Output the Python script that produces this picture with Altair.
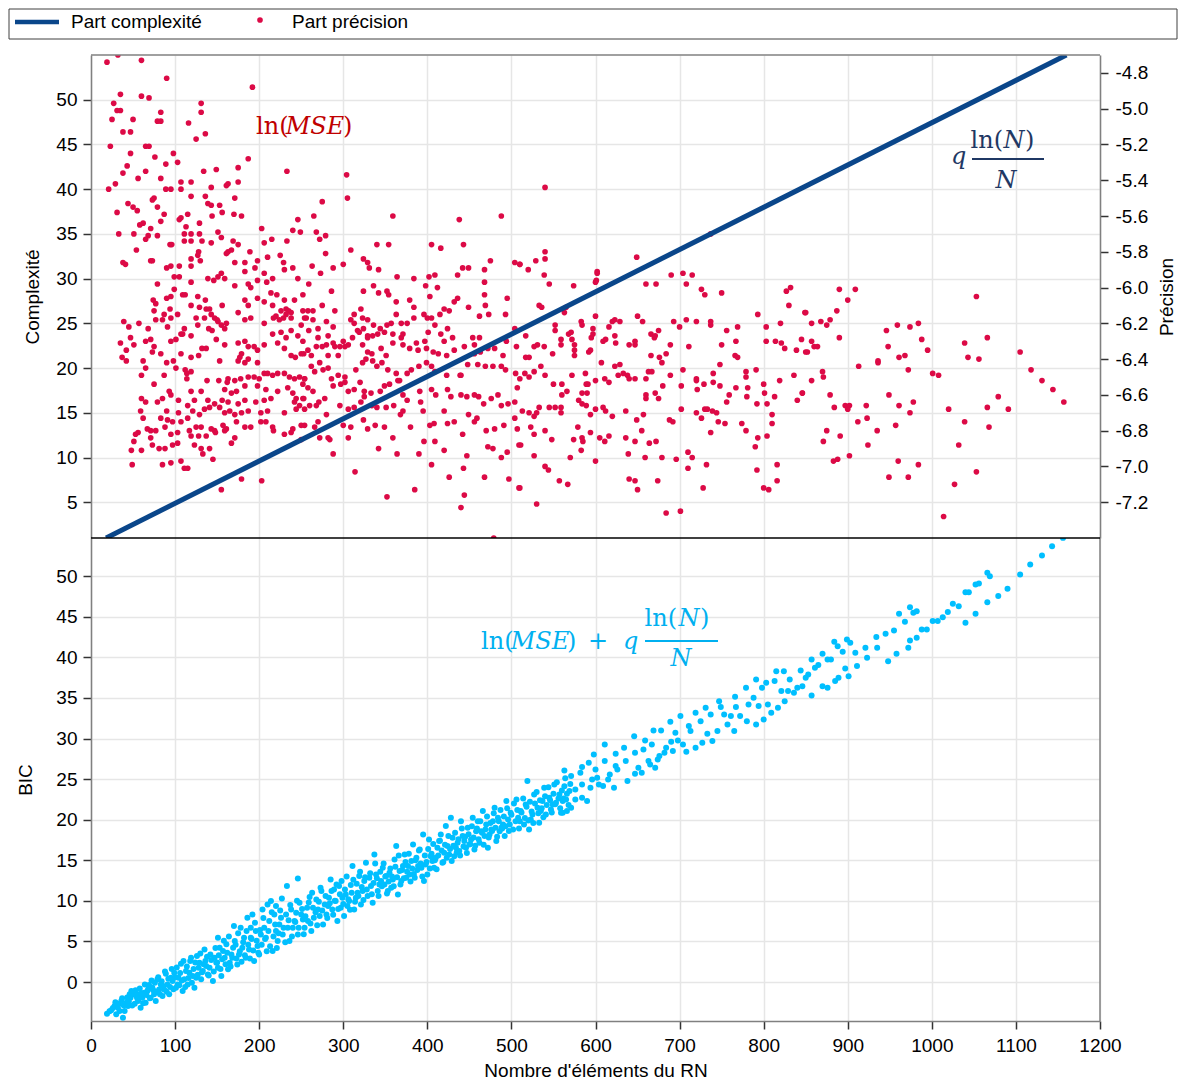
import altair as alt
import pandas as pd

# ---------------- data ----------------
X_TICKS = list(range(0, 1201, 100))
C_TICKS = [5, 10, 15, 20, 25, 30, 35, 40, 45, 50]
P_TICKS = [-7.2, -7.0, -6.8, -6.6, -6.4, -6.2, -6.0, -5.8, -5.6, -5.4, -5.2, -5.0, -4.8]
B_TICKS = [0, 5, 10, 15, 20, 25, 30, 35, 40, 45, 50]

# complexity line (q ln(N)/N), left axis
LINE_N = [18, 1160]
LINE_C = [1.0, 55.0]

# precision points ln(MSE): (N, value), right axis
PREC = [
    (19,-4.74),(32,-4.70),(60,-4.73),(90,-4.83),(192,-4.88),(35,-4.92),(60,-4.93),(69,-4.94),(27,-4.97),(131,-4.97),
    (31,-5.01),(35,-5.01),(83,-5.02),(131,-5.02),(25,-5.06),(50,-5.06),(79,-5.07),(83,-5.07),(116,-5.08),(38,-5.13),
    (47,-5.13),(136,-5.14),(125,-5.17),(23,-5.21),(65,-5.21),(69,-5.21),(98,-5.25),(47,-5.25),(76,-5.27),(187,-5.28),
    (103,-5.30),(89,-5.31),(43,-5.32),(65,-5.35),(134,-5.35),(149,-5.34),(175,-5.33),(233,-5.35),(38,-5.36),(83,-5.39),
    (56,-5.39),(107,-5.41),(119,-5.41),(163,-5.42),(175,-5.41),(29,-5.42),(21,-5.45),(89,-5.45),(95,-5.45),(107,-5.45),
    (143,-5.44),(161,-5.43),(75,-5.50),(73,-5.51),(119,-5.49),(136,-5.49),(171,-5.50),(44,-5.53),(50,-5.55),(139,-5.53),
    (143,-5.54),(153,-5.54),(79,-5.55),(55,-5.57),(31,-5.58),(156,-5.58),(170,-5.59),(87,-5.59),(179,-5.60),(115,-5.59),
    (107,-5.61),(105,-5.62),(144,-5.60),(83,-5.63),(62,-5.64),(58,-5.65),(129,-5.64),(71,-5.67),(113,-5.66),(246,-5.62),
    (203,-5.67),(240,-5.68),(249,-5.69),(33,-5.70),(51,-5.70),(79,-5.71),(68,-5.71),(65,-5.73),(111,-5.70),(119,-5.70),
    (129,-5.70),(143,-5.75),(151,-5.69),(155,-5.72),(111,-5.74),(119,-5.74),(94,-5.76),(96,-5.76),(132,-5.74),(169,-5.74),
    (175,-5.76),(215,-5.73),(206,-5.75),(233,-5.74),(54,-5.79),(163,-5.80),(167,-5.79),(161,-5.81),(128,-5.80),(189,-5.80),
    (210,-5.83),(71,-5.85),(73,-5.85),(119,-5.84),(127,-5.82),(130,-5.85),(171,-5.86),(183,-5.86),(198,-5.85),(225,-5.82),
    (38,-5.86),(41,-5.87),(95,-5.88),(105,-5.88),(90,-5.89),(119,-5.88),(195,-5.89),(183,-5.91),(206,-5.92),(229,-5.86),
    (230,-5.90),(240,-5.89),(139,-5.95),(146,-5.96),(151,-5.94),(155,-5.92),(159,-5.95),(99,-5.94),(105,-5.94),(119,-5.97),
    (171,-5.99),(187,-5.98),(198,-5.96),(190,-6.00),(209,-5.97),(216,-5.95),(246,-5.95),(79,-5.98),(99,-6.01),(109,-6.04),
    (112,-6.04),(95,-6.05),(90,-6.06),(74,-6.07),(127,-6.05),(136,-6.07),(77,-6.09),(75,-6.13),(94,-6.12),(119,-6.10),
    (129,-6.11),(137,-6.12),(141,-6.12),(147,-6.17),(143,-6.15),(150,-6.18),(156,-6.10),(175,-6.14),(183,-6.07),(187,-6.10),
    (198,-6.06),(206,-6.08),(214,-6.03),(221,-6.04),(230,-6.07),(242,-6.07),(252,-6.04),(216,-6.10),(226,-6.13),(232,-6.12),
    (235,-6.13),(238,-6.14),(252,-6.13),(87,-6.15),(95,-6.17),(77,-6.18),(85,-6.18),(103,-6.15),(91,-6.22),(111,-6.23),
    (107,-6.26),(109,-6.26),(125,-6.17),(127,-6.21),(135,-6.17),(140,-6.23),(144,-6.24),(151,-6.19),(155,-6.21),(161,-6.20),
    (159,-6.23),(183,-6.18),(190,-6.17),(206,-6.20),(217,-6.17),(220,-6.16),(224,-6.18),(229,-6.17),(232,-6.15),(238,-6.17),
    (250,-6.21),(254,-6.17),(39,-6.19),(45,-6.22),(57,-6.20),(68,-6.23),(47,-6.28),(51,-6.32),(35,-6.31),(65,-6.30),
    (71,-6.29),(75,-6.33),(73,-6.36),(42,-6.35),(37,-6.39),(42,-6.41),(62,-6.41),(83,-6.37),(95,-6.30),(101,-6.29),
    (119,-6.27),(149,-6.29),(159,-6.32),(175,-6.31),(183,-6.30),(187,-6.33),(194,-6.33),(198,-6.35),(206,-6.32),(216,-6.26),
    (226,-6.25),(232,-6.28),(238,-6.24),(246,-6.27),(222,-6.31),(230,-6.34),(238,-6.38),(243,-6.39),(250,-6.37),(179,-6.37),
    (177,-6.39),(187,-6.40),(198,-6.42),(107,-6.37),(119,-6.39),(128,-6.38),(132,-6.34),(137,-6.34),(153,-6.41),(175,-6.41),
    (183,-6.42),(90,-6.42),(98,-6.41),(101,-6.45),(112,-6.46),(114,-6.48),(119,-6.47),(114,-6.51),(65,-6.45),(87,-6.49),
    (60,-6.49),(75,-6.54),(60,-6.62),(65,-6.64),(59,-6.69),(62,-6.73),(79,-6.64),(85,-6.62),(90,-6.69),(93,-6.58),
    (95,-6.60),(104,-6.63),(104,-6.70),(119,-6.58),(131,-6.58),(138,-6.52),(152,-6.52),(163,-6.51),(171,-6.52),(178,-6.51),
    (187,-6.50),(194,-6.50),(200,-6.51),(206,-6.48),(210,-6.48),(216,-6.49),(222,-6.48),(230,-6.48),(236,-6.50),(242,-6.51),
    (248,-6.50),(254,-6.51),(162,-6.53),(159,-6.57),(167,-6.59),(173,-6.58),(183,-6.55),(198,-6.55),(208,-6.57),(214,-6.62),
    (222,-6.58),(234,-6.56),(240,-6.59),(244,-6.62),(252,-6.62),(123,-6.63),(139,-6.63),(147,-6.65),(156,-6.63),(163,-6.64),
    (175,-6.65),(183,-6.63),(196,-6.64),(206,-6.63),(242,-6.64),(248,-6.66),(115,-6.66),(121,-6.69),(129,-6.71),(135,-6.68),
    (141,-6.67),(153,-6.67),(159,-6.70),(165,-6.69),(171,-6.71),(179,-6.70),(187,-6.69),(202,-6.70),(210,-6.69),(230,-6.70),
    (244,-6.68),(254,-6.68),(83,-6.73),(91,-6.74),(97,-6.75),(107,-6.75),(115,-6.73),(117,-6.80),(125,-6.78),(131,-6.78),
    (143,-6.79),(147,-6.80),(157,-6.77),(161,-6.79),(173,-6.75),(183,-6.78),(190,-6.78),(202,-6.75),(208,-6.75),(216,-6.78),
    (217,-6.80),(230,-6.82),(238,-6.81),(240,-6.79),(250,-6.77),(67,-6.79),(71,-6.80),(77,-6.80),(88,-6.78),(95,-6.82),
    (103,-6.81),(119,-6.83),(128,-6.83),(137,-6.83),(148,-6.81),(159,-6.80),(167,-6.87),(171,-6.84),(56,-6.81),(53,-6.82),
    (51,-6.86),(71,-6.84),(73,-6.88),(81,-6.90),(88,-6.90),(97,-6.88),(103,-6.87),(123,-6.88),(131,-6.90),(133,-6.93),
    (141,-6.90),(145,-6.96),(48,-6.91),(60,-6.91),(107,-6.97),(111,-7.01),(115,-7.01),(95,-6.98),(85,-6.99),(49,-6.99),
    (155,-7.13),(179,-7.07),(203,-7.08),(250,-6.85),
    (304,-5.37),(305,-5.50),(275,-5.52),(265,-5.60),(359,-5.60),(438,-5.62),(488,-5.60),(268,-5.69),(272,-5.73),(279,-5.71),
    (279,-5.81),(309,-5.79),(340,-5.76),(354,-5.76),(405,-5.76),(416,-5.78),(443,-5.76),(263,-5.88),(273,-5.92),(288,-5.89),
    (300,-5.87),(324,-5.84),(329,-5.86),(331,-5.89),(342,-5.90),(364,-5.94),(384,-5.95),(402,-5.94),(409,-5.93),(436,-5.93),
    (442,-5.89),(449,-5.89),(475,-5.85),(468,-5.90),(504,-5.86),(510,-5.87),(259,-5.98),(286,-6.02),(324,-6.02),(336,-5.99),
    (342,-6.03),(352,-6.02),(354,-6.04),(363,-6.08),(379,-6.07),(398,-5.99),(412,-6.00),(403,-6.05),(468,-5.97),(468,-6.04),
    (469,-6.10),(495,-6.06),(258,-6.13),(264,-6.13),(275,-6.10),(290,-6.13),(256,-6.17),(264,-6.18),(270,-6.23),(280,-6.19),
    (288,-6.22),(282,-6.27),(309,-6.18),(313,-6.15),(321,-6.12),(329,-6.18),(323,-6.17),(313,-6.20),(317,-6.24),(324,-6.23),
    (329,-6.27),(336,-6.21),(344,-6.23),(352,-6.21),(357,-6.20),(363,-6.15),(369,-6.20),(376,-6.20),(384,-6.11),(384,-6.17),
    (396,-6.15),(400,-6.17),(405,-6.17),(409,-6.21),(415,-6.15),(420,-6.12),(426,-6.13),(432,-6.08),(436,-6.06),(449,-6.11),
    (462,-6.16),(473,-6.15),(493,-6.15),(259,-6.24),(270,-6.28),(275,-6.33),(280,-6.32),(288,-6.31),(300,-6.30),(306,-6.32),
    (311,-6.28),(319,-6.25),(329,-6.28),(335,-6.27),(341,-6.26),(349,-6.25),(359,-6.26),(369,-6.28),(371,-6.26),(387,-6.31),
    (397,-6.30),(401,-6.25),(416,-6.26),(420,-6.30),(430,-6.28),(424,-6.23),(454,-6.28),(462,-6.28),(252,-6.30),(258,-6.35),
    (268,-6.33),(282,-6.38),(290,-6.33),(296,-6.33),(294,-6.38),(302,-6.33),(323,-6.32),(329,-6.36),(334,-6.37),(345,-6.34),
    (351,-6.38),(359,-6.31),(371,-6.32),(379,-6.34),(389,-6.35),(399,-6.34),(407,-6.36),(413,-6.37),(423,-6.38),(432,-6.35),
    (444,-6.33),(456,-6.32),(463,-6.36),(472,-6.34),(480,-6.34),(490,-6.38),(494,-6.30),(504,-6.23),(506,-6.33),(253,-6.37),
    (262,-6.38),(272,-6.42),(262,-6.44),(254,-6.51),(266,-6.47),(276,-6.46),(282,-6.45),(286,-6.51),(294,-6.49),(302,-6.50),
    (315,-6.46),(323,-6.42),(327,-6.40),(335,-6.41),(340,-6.44),(346,-6.42),(353,-6.46),(363,-6.48),(367,-6.52),(376,-6.48),
    (381,-6.46),(390,-6.44),(399,-6.42),(405,-6.44),(409,-6.47),(423,-6.49),(439,-6.49),(448,-6.43),(456,-6.37),(460,-6.43),
    (469,-6.44),(478,-6.44),(488,-6.44),(493,-6.46),(505,-6.48),(252,-6.54),(258,-6.56),(264,-6.58),(271,-6.64),(278,-6.62),
    (288,-6.55),(297,-6.54),(302,-6.53),(306,-6.58),(313,-6.57),(320,-6.53),(325,-6.58),(333,-6.59),(344,-6.58),(349,-6.55),
    (355,-6.54),(365,-6.52),(371,-6.60),(376,-6.63),(391,-6.58),(405,-6.57),(410,-6.60),(424,-6.57),(428,-6.61),(440,-6.49),
    (440,-6.60),(447,-6.61),(456,-6.60),(461,-6.61),(467,-6.65),(476,-6.62),(484,-6.60),(488,-6.66),(496,-6.65),(504,-6.64),
    (253,-6.62),(260,-6.66),(268,-6.66),(280,-6.71),(270,-6.75),(266,-6.78),(272,-6.84),(284,-6.85),(288,-6.93),(296,-6.66),
    (306,-6.68),(313,-6.67),(321,-6.64),(325,-6.61),(334,-6.66),(340,-6.67),(351,-6.67),(360,-6.66),(368,-6.71),(371,-6.69),
    (380,-6.78),(392,-6.64),(395,-6.69),(403,-6.77),(408,-6.76),(420,-6.69),(424,-6.76),(432,-6.75),(442,-6.82),(449,-6.71),
    (456,-6.75),(459,-6.73),(470,-6.80),(480,-6.79),(491,-6.77),(504,-6.73),(254,-6.77),(282,-6.84),(300,-6.77),(309,-6.78),
    (306,-6.84),(324,-6.74),(329,-6.79),(338,-6.77),(349,-6.78),(359,-6.84),(342,-6.90),(364,-6.93),(390,-6.93),(396,-6.86),
    (409,-6.86),(420,-6.91),(447,-6.94),(472,-6.89),(478,-6.90),(488,-6.95),(495,-6.92),(509,-6.88),(314,-7.03),(352,-7.17),
    (385,-7.13),(405,-6.99),(426,-7.06),(443,-7.01),(444,-7.16),(440,-7.23),(468,-7.06),(497,-7.07),(509,-7.12),(479,-7.40),
    (540,-5.44),(540,-5.80),(540,-5.84),(529,-5.85),(510,-5.87),(520,-5.90),(539,-5.93),(545,-5.98),(602,-5.91),(602,-5.92),
    (601,-5.96),(600,-5.97),(574,-5.99),(649,-5.83),(690,-5.93),(704,-5.92),(715,-5.93),(708,-5.98),(660,-5.98),(672,-5.98),
    (726,-6.01),(730,-6.04),(750,-6.03),(737,-5.70),(533,-6.10),(536,-6.11),(565,-6.11),(563,-6.14),(552,-6.21),(552,-6.24),
    (583,-6.19),(584,-6.21),(600,-6.16),(597,-6.23),(616,-6.22),(623,-6.18),(620,-6.19),(629,-6.19),(650,-6.16),(656,-6.19),
    (666,-6.26),(670,-6.28),(675,-6.24),(693,-6.19),(700,-6.22),(708,-6.18),(720,-6.19),(737,-6.19),(737,-6.21),(756,-6.24),
    (769,-6.22),(793,-6.15),(803,-6.22),(820,-6.20),(832,-6.00),(827,-6.02),(830,-6.10),(849,-6.14),(517,-6.27),(531,-6.32),
    (527,-6.33),(539,-6.33),(549,-6.37),(559,-6.29),(559,-6.32),(568,-6.26),(571,-6.25),(572,-6.29),(575,-6.32),(575,-6.35),
    (575,-6.38),(592,-6.36),(594,-6.35),(595,-6.28),(597,-6.26),(609,-6.30),(612,-6.29),(623,-6.27),(624,-6.31),(640,-6.32),
    (647,-6.30),(647,-6.32),(671,-6.27),(666,-6.38),(676,-6.39),(679,-6.42),(684,-6.37),(689,-6.32),(711,-6.33),(750,-6.32),
    (748,-6.43),(767,-6.30),(766,-6.38),(769,-6.39),(803,-6.30),(814,-6.30),(821,-6.31),(825,-6.34),(839,-6.35),(845,-6.29),
    (850,-6.36),(521,-6.39),(517,-6.39),(535,-6.44),(527,-6.47),(516,-6.48),(521,-6.50),(510,-6.51),(507,-6.56),(540,-6.49),
    (550,-6.54),(572,-6.49),(588,-6.48),(560,-6.54),(566,-6.58),(560,-6.60),(589,-6.54),(591,-6.54),(584,-6.59),(590,-6.59),
    (600,-6.52),(607,-6.42),(611,-6.51),(616,-6.53),(623,-6.44),(629,-6.43),(627,-6.49),(633,-6.48),(638,-6.49),(640,-6.51),
    (647,-6.51),(660,-6.51),(663,-6.47),(667,-6.47),(660,-6.60),(660,-6.62),(671,-6.59),(675,-6.62),(680,-6.55),(689,-6.49),
    (702,-6.55),(704,-6.46),(720,-6.51),(720,-6.52),(721,-6.57),(729,-6.54),(740,-6.48),(740,-6.53),(748,-6.55),(756,-6.64),
    (759,-6.60),(767,-6.56),(779,-6.47),(779,-6.50),(781,-6.56),(780,-6.61),(791,-6.46),(792,-6.65),(800,-6.54),(801,-6.59),
    (804,-6.65),(813,-6.61),(819,-6.52),(836,-6.49),(840,-6.63),(846,-6.59),(513,-6.69),(521,-6.70),(527,-6.72),(530,-6.70),
    (533,-6.67),(545,-6.67),(552,-6.67),(559,-6.67),(559,-6.70),(580,-6.63),(584,-6.65),(589,-6.66),(594,-6.71),(600,-6.68),
    (609,-6.67),(612,-6.69),(620,-6.72),(636,-6.69),(649,-6.74),(657,-6.71),(688,-6.74),(692,-6.75),(702,-6.68),(720,-6.70),
    (726,-6.73),(730,-6.68),(733,-6.68),(739,-6.69),(744,-6.70),(746,-6.75),(754,-6.76),(774,-6.76),(779,-6.80),(793,-6.84),
    (804,-6.83),(810,-6.71),(810,-6.76),(790,-6.89),(507,-6.79),(523,-6.78),(527,-6.82),(511,-6.88),(540,-6.80),(548,-6.85),
    (574,-6.85),(579,-6.78),(584,-6.84),(585,-6.86),(583,-6.91),(594,-6.81),(605,-6.84),(611,-6.86),(616,-6.83),(636,-6.84),
    (647,-6.86),(655,-6.80),(664,-6.87),(672,-6.86),(639,-6.93),(659,-6.95),(679,-6.95),(696,-6.96),(710,-6.92),(715,-6.95),
    (710,-7.01),(732,-6.99),(737,-6.81),(527,-6.94),(540,-7.00),(544,-7.02),(557,-7.08),(567,-7.10),(570,-6.95),(600,-6.97),
    (640,-7.07),(647,-7.08),(650,-7.13),(674,-7.08),(728,-7.12),(792,-7.02),(800,-7.12),(806,-7.13),(816,-7.08),(816,-6.99),
    (510,-7.12),(530,-7.21),(684,-7.26),(701,-7.25),
    (850,-6.14),(857,-6.20),(868,-6.19),(879,-6.18),(875,-6.21),(887,-6.13),(890,-6.01),(900,-6.07),(909,-6.01),(890,-6.28),
    (857,-6.30),(860,-6.33),(864,-6.33),(852,-6.36),(870,-6.47),(871,-6.50),(857,-6.52),(846,-6.59),(879,-6.60),(884,-6.67),
    (897,-6.66),(900,-6.68),(902,-6.66),(913,-6.44),(936,-6.41),(936,-6.42),(946,-6.24),(959,-6.21),(974,-6.22),(984,-6.20),
    (988,-6.29),(995,-6.35),(948,-6.33),(961,-6.39),(968,-6.38),(972,-6.46),(1001,-6.48),(1008,-6.49),(922,-6.66),(912,-6.75),
    (923,-6.73),(935,-6.80),(949,-6.60),(961,-6.66),(978,-6.64),(974,-6.70),(957,-6.77),(875,-6.80),(871,-6.86),(891,-6.83),
    (924,-6.88),(883,-6.97),(888,-6.96),(902,-6.94),(960,-6.97),(949,-7.06),(972,-7.06),(984,-6.99),(1020,-6.68),(1039,-6.75),
    (1032,-6.88),(1014,-7.28),(1027,-7.10),(1053,-7.03),(1053,-6.05),(1066,-6.28),(1039,-6.31),(1043,-6.39),(1056,-6.40),(1105,-6.36),
    (1118,-6.46),(1131,-6.52),(1144,-6.57),(1157,-6.64),(1079,-6.61),(1066,-6.67),(1091,-6.68),(1068,-6.78),
]

# BIC points: (N, BIC)
BIC = [
    (19,-3.90),(24,-3.49),(30,-3.98),(34,-3.57),(38,-4.40),(36,-2.34),(42,-2.55),(40,-3.57),(47,-1.93),(50,-1.52),
    (52,-2.67),(56,-2.34),(57,-1.52),(59,-3.16),(63,-1.32),(65,-2.55),(69,-0.37),(71,-1.93),(75,-1.52),(77,-2.34),
    (79,0.33),(81,-0.91),(85,-1.73),(89,1.02),(91,-0.29),(93,-1.52),(97,0.12),(99,1.15),(101,-0.70),(104,0.53),
    (107,2.25),(109,-1.11),(113,1.35),(115,-0.29),(118,2.58),(121,0.73),(123,-0.70),(126,3.20),(128,1.76),(131,0.33),
    (135,4.02),(136,2.58),(139,0.94),(142,3.40),(145,0.12),(149,2.38),(151,5.46),(153,4.23),(155,0.73),(159,2.99),
    (161,4.64),(163,1.56),(167,3.40),(170,6.89),(171,5.05),(174,2.17),(178,6.69),(180,4.23),(184,2.99),(186,7.92),
    (190,5.46),(192,8.33),(194,2.58),(196,6.28),(198,4.43),(200,3.40),(204,8.95),(206,6.69),(208,5.46),(210,9.56),
    (214,9.97),(216,3.81),(218,8.33),(220,9.36),(222,5.05),(224,7.10),(227,10.30),(228,5.87),(232,8.33),(233,11.82),
    (236,5.05),(238,8.95),(240,6.69),(242,7.51),(246,12.76),(246,5.87),(248,9.77),(250,8.33),(254,6.69),(257,9.15),
    (260,10.46),(262,6.28),(265,7.92),(268,10.18),(270,8.95),(274,11.20),(276,7.10),(278,9.56),(280,8.33),(283,10.38),
    (285,12.64),(287,8.95),(289,11.41),(293,7.51),(295,11.82),(297,9.15),(298,12.44),(301,8.13),(303,10.79),(307,9.97),
    (309,11.94),(311,14.28),(313,8.95),(317,11.00),(319,13.05),(321,9.56),(325,12.44),(327,14.69),(329,10.59),(333,11.82),
    (335,9.77),(337,15.72),(339,13.26),(341,11.20),(345,12.44),(347,14.08),(349,12.02),(353,11.20),(355,13.46),(359,12.64),
    (361,15.10),(363,16.75),(365,10.79),(367,13.67),(371,14.28),(373,15.72),(375,12.85),(377,14.28),(381,14.90),(383,16.95),
    (385,12.85),(389,14.28),(391,16.33),(395,18.18),(396,12.44),(398,14.49),(400,13.26),(402,17.57),(404,15.51),(408,14.08),
    (412,16.54),(414,17.36),(416,18.18),(418,14.69),(420,15.92),(422,19.21),(424,16.75),(428,20.23),(430,17.77),(432,15.51),
    (436,17.16),(438,16.13),(440,19.82),(442,17.98),(446,16.54),(448,19.00),(452,17.57),(454,20.23),(456,16.33),(458,18.59),
    (460,19.82),(462,17.16),(466,21.06),(468,17.98),(470,19.41),(472,16.54),(476,18.80),(478,19.82),(480,21.47),(482,17.36),
    (484,20.23),(486,18.59),(490,19.41),(492,17.98),(494,22.29),(496,20.03),(499,20.85),(502,18.80),(506,22.49),(508,20.23),
    (511,21.06),(515,19.41),(517,21.88),(519,24.75),(521,18.80),(525,20.65),(527,23.11),(531,21.47),(533,19.62),(537,22.29),
    (539,23.93),(541,20.65),(545,22.70),(547,21.26),(551,24.34),(553,22.08),(557,23.11),(559,20.85),(563,24.13),(565,22.49),
    (569,23.52),
    (28,-2.96),(32,-3.16),(44,-2.96),(46,-1.52),(54,-1.73),(61,-1.93),(67,-1.11),(73,-0.70),(83,-0.29),(87,-0.91),
    (95,0.53),(103,-0.29),(111,0.33),(117,1.15),(125,0.53),(129,2.38),(133,1.35),(137,1.97),(141,1.76),(147,2.99),
    (151,1.76),(157,3.81),(165,2.38),(169,4.23),(176,3.40),(182,5.46),(188,4.02),(190,6.69),(202,5.87),(212,7.51),
    (220,6.28),(226,7.92),(234,6.69),(244,8.54),(252,7.71),(258,7.51),(264,9.15),(272,8.13),(282,9.36),(291,9.97),
    (299,10.38),(305,9.36),(315,10.38),(323,11.20),(331,12.85),(343,12.02),(351,13.05),(357,11.61),(369,12.44),(379,13.26),
    (387,15.31),(393,14.08),(406,14.90),(410,15.31),(426,15.72),(434,16.54),(444,17.36),(450,16.95),(464,18.59),(474,18.18),
    (488,19.00),(498,19.41),(510,19.82),(523,20.03),(535,21.06),(549,21.88),(561,22.29),
    # dense part of the band
    (22,-3.6),(26,-3.2),(29,-2.5),(33,-2.7),(37,-2.0),(39,-2.9),(43,-1.9),(45,-2.4),(48,-1.1),(49,-2.9),
    (53,-1.0),(55,-2.0),(58,-0.8),(60,-1.4),(62,-2.6),(64,-0.3),(66,-1.6),(68,-0.9),(70,-2.0),(72,0.2),
    (74,-1.0),(76,-0.1),(78,-1.2),(80,0.6),(82,-1.5),(84,0.1),(86,-0.5),(88,1.3),(90,-1.2),(92,0.4),
    (94,-0.6),(96,1.6),(98,-0.9),(100,0.6),(102,1.8),(105,-0.4),(106,1.1),(108,0.2),(110,2.6),(112,-0.6),
    (114,1.9),(116,0.5),(119,3.0),(120,-0.1),(122,1.6),(124,2.4),(127,0.9),(130,3.5),(132,1.2),(134,2.2),
    (138,3.1),(140,0.8),(143,2.7),(146,1.3),(148,4.2),(150,2.4),(152,3.3),(154,1.6),(156,2.8),(158,5.1),
    (160,2.2),(162,3.6),(164,5.6),(166,1.9),(168,3.0),(172,4.6),(173,2.9),(175,6.0),(177,3.8),(179,2.5),
    (181,4.9),(183,3.3),(185,6.3),(187,4.6),(189,2.9),(191,5.3),(193,3.9),(195,7.3),(197,5.1),(199,3.6),
    (201,6.4),(203,4.6),(205,7.9),(207,5.3),(209,3.8),(211,6.3),(213,4.4),(215,8.6),(217,5.6),(219,7.1),
    (221,4.2),(223,6.0),(225,8.8),(229,6.7),(231,4.9),(235,7.6),(237,9.5),(239,5.6),(243,7.4),(245,10.0),
    (247,6.7),(251,9.0),(253,5.9),(255,8.1),(259,9.8),(261,7.2),(263,11.0),(267,8.6),(269,7.0),(271,9.9),
    (273,11.6),(275,8.8),(279,10.6),(281,7.9),(284,9.7),(286,11.2),(288,8.3),(290,10.0),(292,12.0),(294,9.0),
    (296,10.8),(300,9.6),(302,11.4),(304,13.0),(306,10.2),(308,8.9),(310,11.0),(312,12.6),(314,9.9),(316,12.1),
    (318,10.6),(320,13.6),(322,11.7),(324,10.1),(326,12.9),(328,11.4),(332,13.4),(334,10.8),(336,12.2),(338,14.6),
    (340,12.8),(342,10.6),(344,13.6),(346,11.8),(348,14.6),(350,13.0),(352,10.9),(354,12.4),(356,14.0),(358,13.0),
    (360,11.8),(362,14.2),(364,12.9),(366,15.6),(368,12.0),(370,13.8),(372,12.8),(374,14.8),(376,13.6),(378,15.8),
    (380,12.4),(382,14.0),(384,13.3),(386,15.0),(388,13.8),(390,16.2),(392,14.6),(394,13.0),(397,15.6),(399,14.8),
    (401,16.4),(403,14.0),(405,15.8),(407,17.0),(409,15.0),(411,13.9),(413,15.6),(415,17.4),(417,16.2),(419,14.8),
    (421,16.9),(423,15.3),(425,18.0),(427,16.4),(429,14.9),(431,16.8),(433,18.4),(435,16.0),(437,17.6),(439,15.6),
    (441,18.9),(443,16.7),(445,17.9),(447,15.9),(449,18.2),(451,17.0),(453,19.2),(455,17.8),(457,16.8),(459,18.9),
    (461,17.6),(463,19.8),(465,18.4),(467,16.9),(469,18.8),(471,20.4),(473,17.8),(475,19.6),(477,18.6),(479,20.8),
    (481,19.0),(483,17.9),(485,19.8),(487,21.2),(489,18.9),(491,20.4),(493,19.2),(495,21.4),(497,18.6),(500,20.6),
    (503,22.0),(505,19.8),(507,21.2),(509,18.9),(512,20.9),(514,22.6),(516,20.2),(518,21.6),(520,19.9),(522,22.2),
    (524,21.0),(526,19.6),(528,22.0),(530,23.4),(532,20.8),(534,22.4),(536,21.4),(538,20.3),(540,22.9),(542,21.8),
    (544,24.0),(546,22.4),(548,20.9),(550,23.2),(552,21.9),(554,24.6),(556,22.6),(558,21.4),(560,23.6),(562,22.6),
    (564,25.1),(566,23.2),(568,21.8),(570,24.4),
    (563,26.07),(571,25.37),(582,25.78),(584,26.48),(592,27.01),(598,28.04),(611,29.27),(611,27.22),(600,26.19),(602,25.16),
    (594,23.93),(584,22.70),(590,22.29),(576,22.49),(571,21.47),(566,21.06),(561,20.85),(576,23.73),(584,24.34),(596,24.96),
    (604,24.34),(609,24.14),(615,24.96),(617,25.57),(622,23.93),(624,26.60),(624,28.12),(626,26.19),(634,28.86),(636,27.22),
    (638,24.75),(646,30.29),(647,28.24),(647,25.66),(651,26.39),(655,25.78),(657,28.65),(659,29.76),(663,27.22),(665,26.81),
    (667,29.27),(669,30.99),(671,26.39),(674,27.42),(676,27.83),(678,30.99),(682,28.24),(684,28.86),(689,32.06),(690,29.60),
    (692,28.45),(695,30.70),(698,29.76),(701,32.76),(704,29.27),(708,28.37),(711,31.53),(713,30.91),(719,33.17),(719,28.86),
    (725,32.14),(727,29.47),(731,33.78),(733,30.58),(737,32.96),(739,29.68),(745,30.91),(747,34.60),(749,33.87),(753,32.96),
    (757,31.73),(761,32.76),(765,30.91),(766,35.14),(767,33.87),(772,32.76),(779,36.25),(780,32.14),(782,34.19),(788,35.02),
    (791,37.27),(791,31.73),(794,33.99),(798,36.25),(800,32.35),(803,36.86),(805,34.19),(809,33.17),(813,37.07),(815,38.30),
    (817,33.78),(821,35.84),(824,38.30),(825,34.60),(829,35.84),(831,37.27),(836,35.63),(840,36.25),(844,38.38),(846,36.45),
    (850,37.48),(853,37.89),(857,39.74),(857,35.30),(861,38.71),(865,39.04),(870,40.43),(870,36.45),(876,39.74),(876,36.25),
    (880,39.74),(884,41.91),(885,37.07),(888,41.38),(889,37.48),(894,40.68),(897,38.63),(899,42.20),(901,37.68),(903,41.79),
    (909,40.56),(911,38.92),(921,41.17),(923,39.94),(934,42.49),(935,41.17),(945,42.90),(948,39.53),(955,43.31),(958,40.43),
    (961,45.36),(968,44.37),(972,41.17),(974,46.18),(978,45.48),(982,45.69),(974,42.07),(982,42.40),(988,43.43),(994,43.43),
    (1001,44.46),(1007,44.46),(1013,44.95),(1019,45.57),(1025,46.59),(1032,46.30),(1040,44.25),(1040,48.03),(1044,48.03),(1052,48.97),
    (1056,49.09),(1052,45.36),(1066,50.41),(1069,50.00),(1066,46.80),(1079,47.54),(1090,48.44),(1105,50.20),(1117,51.43),(1131,52.54),
    (1143,53.69),(1156,54.72),
]

# ---------------- styling ----------------
FONT = "Liberation Sans"
MATH = "DejaVu Serif"
FS = 19
W, H = 1009, 483
RED = "#dc0a46"
CYAN = "#00bfff"
BLUE = "#0a468a"
NAVY = "#1f3864"
DARKRED = "#c00000"
LIGHTBLUE = "#00b0f0"
GRID = "#e6e6e6"
DOM = "#808080"

prec_df = pd.DataFrame(PREC, columns=["n", "v"])
bic_df = pd.DataFrame(BIC, columns=["n", "v"])
line_df = pd.DataFrame({"n": LINE_N, "c": LINE_C})
one = pd.DataFrame({"k": [0]})


def txt(label, x, y, color, italic=False, align="left", size=24, font=MATH, baseline="alphabetic"):
    return alt.Chart(pd.DataFrame({"t": [label]})).mark_text(
        align=align, baseline=baseline, font=font, fontSize=size,
        fontStyle="italic" if italic else "normal", color=color
    ).encode(x=alt.value(x), y=alt.value(y), text="t:N")


def hrule(x1, x2, y, color, width):
    return alt.Chart(one).mark_rule(color=color, strokeWidth=width).encode(
        x=alt.value(x1), x2=alt.value(x2), y=alt.value(y))


def vrule(x, y1, y2, color, width):
    return alt.Chart(one).mark_rule(color=color, strokeWidth=width).encode(
        x=alt.value(x), y=alt.value(y1), y2=alt.value(y2))


xscale = alt.Scale(domain=[0, 1200], nice=False, zero=False)

# ---------------- top panel ----------------
x_top = alt.X("n:Q", scale=xscale,
              axis=alt.Axis(values=X_TICKS, labels=False, ticks=False, domain=False,
                            title=None, grid=True))

prec_layer = alt.Chart(prec_df).mark_circle(color=RED, size=32, opacity=1, clip=True).encode(
    x=x_top,
    y=alt.Y("v:Q", scale=alt.Scale(domain=[-7.4, -4.7], nice=False, zero=False),
            axis=alt.Axis(values=P_TICKS, orient="right", title="Précision", grid=False,
                          labelExpr="replace(format(datum.value, '.1f'), '\u2212', '-')",
                          tickSize=8, labelPadding=7, titlePadding=10, labelFlush=False,
                          titleAngle=270, titleBaseline="top")),
)

line_layer = alt.Chart(line_df).mark_line(color=BLUE, strokeWidth=5, clip=True).encode(
    x=x_top,
    y=alt.Y("c:Q", scale=alt.Scale(domain=[1, 55], nice=False, zero=False),
            axis=alt.Axis(values=C_TICKS, orient="left", title="Complexité", grid=True,
                          format="d", labelPadding=6, titlePadding=13, labelFlush=False)),
)

top_border = hrule(0, W, 0, DOM, 1.5)

top_annot = [
    txt("ln(", 165, 79, DARKRED),
    txt("MSE", 224, 79, DARKRED, italic=True, align="center"),
    txt(")", 252, 79, DARKRED),
    txt("q", 860, 109, NAVY, italic=True),
    txt("ln(", 912, 93, NAVY, align="right"),
    txt("N", 923, 93, NAVY, italic=True, align="center"),
    txt(")", 934, 93, NAVY),
    hrule(881, 953, 104, NAVY, 2),
    txt("N", 915, 133, NAVY, italic=True, align="center"),
]

legend = [
    alt.Chart(one).mark_rect(fill="white", stroke="#404040", strokeWidth=1).encode(
        x=alt.value(-82), x2=alt.value(1086), y=alt.value(-46), y2=alt.value(-16)),
    hrule(-76, -32, -33, BLUE, 4.5),
    txt("Part complexité", -20, -33, "black", size=FS, font=FONT, baseline="middle"),
    alt.Chart(one).mark_circle(color=RED, size=32, opacity=1).encode(
        x=alt.value(169), y=alt.value(-35)),
    txt("Part précision", 201, -33, "black", size=FS, font=FONT, baseline="middle"),
]

top = alt.layer(prec_layer, line_layer, top_border, *top_annot, *legend).resolve_scale(
    y="independent").properties(width=W, height=H)

# ---------------- bottom panel ----------------
x_bot = alt.X("n:Q", scale=xscale,
              axis=alt.Axis(values=X_TICKS, format="d", title="Nombre d'éléments du RN",
                            grid=True, labelPadding=7, titlePadding=6, labelFlush=False))

bic_layer = alt.Chart(bic_df).mark_circle(color=CYAN, size=36, opacity=1, clip=True).encode(
    x=x_bot,
    y=alt.Y("v:Q", scale=alt.Scale(domain=[-4.8, 54.7], nice=False, zero=False),
            axis=alt.Axis(values=B_TICKS, title="BIC", grid=True, format="d",
                          labelPadding=6, titlePadding=20, labelFlush=False)),
)

bot_annot = [
    txt("ln(", 390, 111, LIGHTBLUE),
    txt("MSE", 449, 111, LIGHTBLUE, italic=True, align="center"),
    txt(")", 476, 111, LIGHTBLUE),
    txt("+", 507, 111, LIGHTBLUE, align="center"),
    txt("q", 532, 111, LIGHTBLUE, italic=True),
    txt("ln(", 586, 88, LIGHTBLUE, align="right"),
    txt("N", 598, 88, LIGHTBLUE, italic=True, align="center"),
    txt(")", 609, 88, LIGHTBLUE),
    hrule(554, 627, 103, LIGHTBLUE, 2),
    txt("N", 590, 128, LIGHTBLUE, italic=True, align="center"),
]

bottom = alt.layer(
    bic_layer,
    vrule(W, 0, H, DOM, 1.5),
    hrule(0, W, 0, "black", 1.5),
    *bot_annot,
).properties(width=W, height=H)

chart = alt.vconcat(top, bottom, spacing=0, bounds="flush").properties(
    padding={"left": 0, "top": 0, "right": 0, "bottom": 0}
).configure_view(strokeWidth=0).configure_axis(
    labelFont=FONT, labelFontSize=FS, titleFont=FONT, titleFontSize=FS,
    titleFontWeight="normal", labelColor="black", titleColor="black",
    gridColor=GRID, gridWidth=1.5, domainColor=DOM, domainWidth=1.5,
    tickColor="#333333", tickWidth=1.5, tickSize=8, labelFlush=False,
)

chart.save("out.html", embed_options={"renderer": "svg", "actions": False})
